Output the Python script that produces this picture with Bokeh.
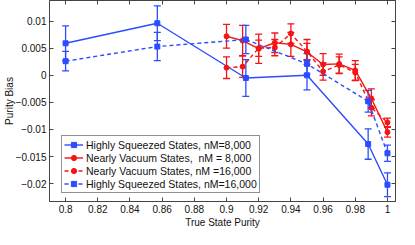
from bokeh.plotting import figure
from bokeh.models import (ColumnDataSource, Whisker, TeeHead, LinearAxis, FixedTicker,
                          Legend, LegendItem, Range1d)
from bokeh.embed import file_html
from bokeh.resources import INLINE

# ---- data ----
hs8_x = [0.8, 0.857, 0.912, 0.95, 0.988, 1.0]
hs8_y = [0.0059, 0.0096, -0.0005, 0.0000, -0.0127, -0.0202]
hs8_e = [0.0032, 0.0032, 0.0034, 0.0027, 0.0028, 0.0022]

nv8_x = [0.9, 0.91, 0.92, 0.93, 0.94, 0.95, 0.96, 0.97, 0.98, 0.99, 1.0]
nv8_y = [0.0072, 0.0064, 0.0049, 0.0060, 0.0057, 0.0043, 0.0020, 0.0021, 0.0009, -0.0043, -0.0105]
nv8_e = [0.0022, 0.0028, 0.0027, 0.0018, 0.0022, 0.0023, 0.0020, 0.0018, 0.0018, 0.0018, 0.0009]

nv16_x = [0.9, 0.91, 0.92, 0.93, 0.94, 0.95, 0.96, 0.97, 0.98, 0.99, 1.0]
nv16_y = [0.0014, 0.0016, 0.0050, 0.0051, 0.0077, 0.0044, 0.0007, 0.0019, 0.0005, -0.0060, -0.0087]
nv16_e = [0.0020, 0.0020, 0.0015, 0.0015, 0.0018, 0.0015, 0.0016, 0.0015, 0.0015, 0.0015, 0.0008]

hs16_x = [0.8, 0.857, 0.912, 0.95, 0.988, 1.0]
hs16_y = [0.0026, 0.0053, 0.0066, 0.0021, -0.0048, -0.0144]
hs16_e = [0.0018, 0.0026, 0.0026, 0.0019, 0.0020, 0.0015]

labels = ["Highly Squeezed States, nM=8,000",
          "Nearly Vacuum States,  nM = 8,000",
          "Nearly Vacuum States, nM =16,000",
          "Highly Squeezed States, nM=16,000"]

xticks = [0.8, 0.82, 0.84, 0.86, 0.88, 0.9, 0.92, 0.94, 0.96, 0.98, 1.0]
xtick_labels = ["0.8", "0.82", "0.84", "0.86", "0.88", "0.9", "0.92", "0.94", "0.96", "0.98", "1"]
yticks = [-0.02, -0.015, -0.01, -0.005, 0.0, 0.005, 0.01]
ytick_labels = ["\u22120.02", "\u22120.015", "\u22120.01", "\u22120.005", "0", "0.005", "0.01"]
x_title = "True State Purity"
y_title = "Purity Bias"

BLUE = "#2b4cff"
RED = "#f51414"
FONT = "Liberation Sans"

p = figure(frame_width=346, frame_height=201, output_backend="svg", toolbar_location=None,
           x_range=Range1d(0.79, 1.005), y_range=Range1d(-0.0233, 0.0138),
           min_border_left=0, min_border_right=10, min_border_top=0, min_border_bottom=0)
p.xgrid.visible = False
p.ygrid.visible = False
p.outline_line_color = "#444444"
p.outline_line_width = 1
p.background_fill_color = "white"
p.border_fill_color = "white"

series = [
    (hs8_x, hs8_y, hs8_e, BLUE, "solid", "square"),
    (nv8_x, nv8_y, nv8_e, RED, "solid", "circle"),
    (nv16_x, nv16_y, nv16_e, RED, "4 3", "circle"),
    (hs16_x, hs16_y, hs16_e, BLUE, "4 3", "square"),
]

items = []
for (xs, ys, es, col, dash, mk), lab in zip(series, labels):
    src = ColumnDataSource(dict(x=xs, y=ys,
                                lo=[y - e for y, e in zip(ys, es)],
                                hi=[y + e for y, e in zip(ys, es)]))
    w = Whisker(base="x", lower="lo", upper="hi", source=src,
                line_color=col, line_width=1.3,
                lower_head=TeeHead(size=7, line_color=col, line_width=1.3),
                upper_head=TeeHead(size=7, line_color=col, line_width=1.3))
    p.add_layout(w)
    ln = p.line("x", "y", source=src, line_color=col, line_width=1.4, line_dash=dash)
    sc = p.scatter("x", "y", source=src, marker=mk, size=5, fill_color=col, line_color=col)
    items.append(LegendItem(label=lab, renderers=[ln, sc]))

legend = Legend(items=items, location=(12, 8), border_line_color="#222222",
                border_line_width=1, background_fill_alpha=1, padding=2, spacing=0,
                margin=0, label_text_font=FONT, label_text_font_size="10.5px",
                label_height=13, glyph_height=13, glyph_width=19, label_standoff=3,
                label_text_color="#111111")
p.add_layout(legend, "center")

def style(ax, ticks, tick_labels, show_labels):
    ax.ticker = FixedTicker(ticks=ticks)
    ax.major_label_overrides = dict(zip(ticks, tick_labels))
    ax.major_tick_in = 4
    ax.major_tick_out = 0
    ax.minor_tick_line_color = None
    ax.axis_line_color = "#444444"
    ax.major_tick_line_color = "#444444"
    ax.major_label_text_font = FONT
    ax.major_label_text_font_size = "10px"
    ax.major_label_text_color = "#111111"
    ax.major_label_standoff = 3
    ax.axis_label_text_font = FONT
    ax.axis_label_text_font_size = "10px"
    ax.axis_label_text_font_style = "normal"
    ax.axis_label_text_color = "#111111"
    ax.axis_label_standoff = -2
    if not show_labels:
        ax.major_label_text_font_size = "0px"
        ax.major_label_standoff = 0
        ax.axis_label_standoff = 0

style(p.xaxis[0], xticks, xtick_labels, True)
style(p.yaxis[0], yticks, ytick_labels, True)
p.yaxis[0].axis_label = y_title
p.xaxis[0].axis_label = x_title
p.xaxis[0].major_label_standoff = 3
p.xaxis[0].axis_label_standoff = 1

top = LinearAxis()
right = LinearAxis()
style(top, xticks, [""] * len(xticks), False)
style(right, yticks, [""] * len(yticks), False)
p.add_layout(top, "above")
p.add_layout(right, "right")

open("out.html", "w").write(file_html(p, INLINE))
